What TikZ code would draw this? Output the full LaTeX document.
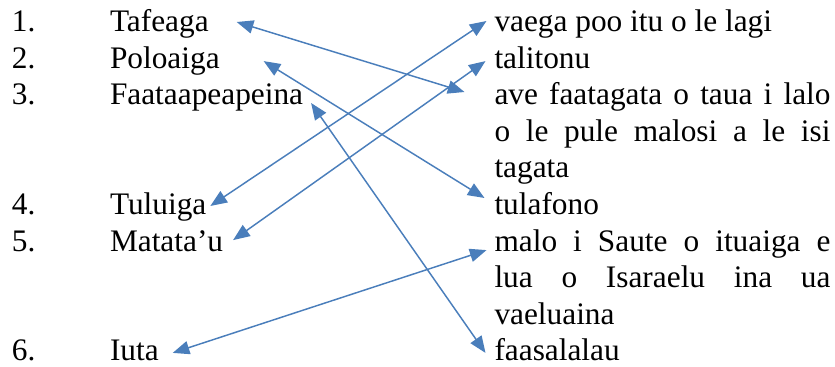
\documentclass[tikz,border=0pt]{standalone}
\usepackage{fontspec}
\setmainfont{Liberation Serif}
\usetikzlibrary{arrows.meta}
\definecolor{linkblue}{HTML}{4A7EBB}
\begin{document}
\begin{tikzpicture}[x=0.75pt,y=-0.75pt,
  txt/.style={anchor=base west, inner sep=0pt, outer sep=0pt, font=\fontsize{23.5}{27}\selectfont},
  link/.style={draw=linkblue, line width=1.1pt, {Triangle[length=12.5pt,width=10pt]}-{Triangle[length=12.5pt,width=10pt]}}]
\useasboundingbox (0,0) rectangle (835,367);
% left column
\node[txt] (n1) at (12,31.5)  {1.};
\node[txt] (n2) at (12,68.1)  {2.};
\node[txt] (n3) at (12,104.7) {3.};
\node[txt] (n4) at (12,214.5) {4.};
\node[txt] (n5) at (12,251.1) {5.};
\node[txt] (n6) at (12,360.9) {6.};
\node[txt] (l1) at (110,31.5)  {Tafeaga};
\node[txt] (l2) at (110,68.1)  {Poloaiga};
\node[txt] (l3) at (110,104.7) {Faataapeapeina};
\node[txt] (l4) at (110,214.5) {Tuluiga};
\node[txt] (l5) at (110,251.1) {Matata’u};
\node[txt] (l6) at (110,360.9) {Iuta};
% right column
\node[txt] (r1)  at (494.5,31.5)  {vaega poo itu o le lagi};
\node[txt] (r2)  at (494.5,68.1)  {talitonu};
\node[txt] (r3)  at (494.5,104.7) {\makebox[252pt][s]{ave faatagata o taua i lalo}};
\node[txt] (r4)  at (494.5,141.3) {\makebox[252pt][s]{o le pule malosi a le isi}};
\node[txt] (r5)  at (494.5,177.9) {tagata};
\node[txt] (r6)  at (494.5,214.5) {tulafono};
\node[txt] (r7)  at (494.5,251.1) {\makebox[252pt][s]{malo i Saute o ituaiga e}};
\node[txt] (r8)  at (494.5,287.7) {\makebox[252pt][s]{lua o Isaraelu ina ua}};
\node[txt] (r9)  at (494.5,324.3) {vaeluaina};
\node[txt] (r10) at (494.5,360.9) {faasalalau};
% connectors
\draw[link] ([shift={(28,-9.5)}]l1.base east) -- ([shift={(-30,-12.7)}]r3.base west);
\draw[link] ([shift={(44,-7)}]l2.base east) -- ([shift={(-10,-16.5)}]r6.base west);
\draw[link] ([shift={(8,-1.7)}]l3.base east) -- ([shift={(-9,-8)}]r10.base west);
\draw[link] ([shift={(4,-8.5)}]l4.base east) -- ([shift={(-8,-10.5)}]r1.base west);
\draw[link] ([shift={(10,-11)}]l5.base east) -- ([shift={(-9,-7)}]r2.base west);
\draw[link] ([shift={(14,-8)}]l6.base east) -- ([shift={(-8,-1)}]r7.base west);
\end{tikzpicture}
\end{document}
